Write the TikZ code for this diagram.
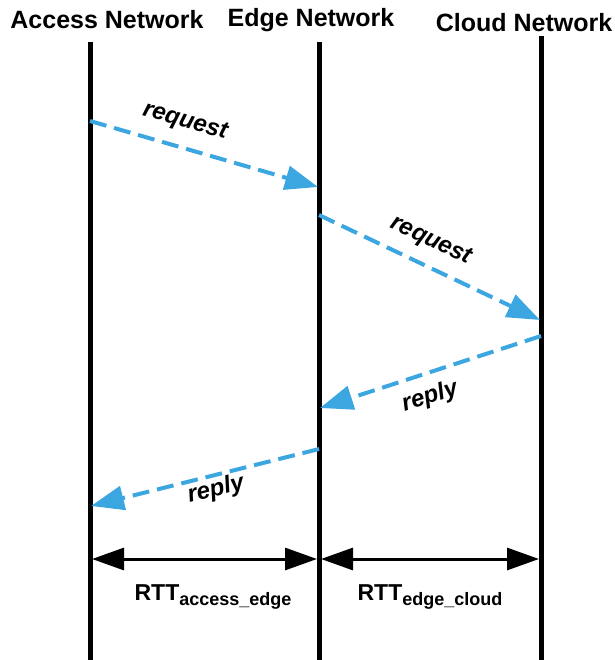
\documentclass[tikz,border=0pt]{standalone}
\usepackage{fontspec}
\setmainfont{Liberation Sans}
\usetikzlibrary{arrows.meta}
\definecolor{msgblue}{RGB}{59,166,224}
\begin{document}
\begin{tikzpicture}[x=1pt,y=-1pt,
  lifeline/.style={line width=5pt},
  msg/.style={msgblue,line width=4pt,dash pattern=on 17pt off 8pt,-{Triangle[length=33pt,width=24pt]}},
  rtt/.style={black,line width=3pt,{Triangle[length=32pt,width=22pt]}-{Triangle[length=32pt,width=22pt]}},
  title/.style={font=\fontsize{25}{29}\selectfont\bfseries,inner sep=0pt},
  mlabel/.style={font=\fontsize{24}{28}\selectfont\bfseries\itshape,inner sep=0pt},
  rlabel/.style={font=\fontsize{23}{27}\selectfont\bfseries,inner sep=0pt}]
\useasboundingbox (0,0) rectangle (614,660);
% titles
\node[title] (tA) at (107,20) {Access Network};
\node[title] (tE) at (311,20) {Edge Network};
\node[title] (tC) at (524,23) {Cloud Network};
% lifelines
\coordinate (aT) at (90,42);  \coordinate (aB) at (90,660);
\coordinate (eT) at (319,42); \coordinate (eB) at (319,660);
\coordinate (cT) at (541,36); \coordinate (cB) at (541,660);
\draw[lifeline] (aT) -- (aB);
\draw[lifeline] (eT) -- (eB);
\draw[lifeline] (cT) -- (cB);
% message points
\coordinate (m1s) at (90,121);  \coordinate (m1e) at (318,187);
\coordinate (m2s) at (319,215); \coordinate (m2e) at (540,320);
\coordinate (m3s) at (541,336); \coordinate (m3e) at (320,408);
\coordinate (m4s) at (319,449); \coordinate (m4e) at (91,506);
\draw[msg] (m1s) -- (m1e);
\draw[msg] (m2s) -- (m2e);
\draw[msg] (m3s) -- (m3e);
\draw[msg] (m4s) -- (m4e);
\node[mlabel,rotate=-16] (l1) at (185,122) {request};
\node[mlabel,rotate=-25] (l2) at (431,241) {request};
\node[mlabel,rotate=18] (l3) at (430,397) {reply};
\node[mlabel,rotate=14] (l4) at (216,490) {reply};
% RTT
\coordinate (r1s) at (92,559);  \coordinate (r1e) at (317,559);
\coordinate (r2s) at (321,559); \coordinate (r2e) at (539,559);
\draw[rtt] (r1s) -- (r1e);
\draw[rtt] (r2s) -- (r2e);
\node[rlabel] (rt1) at (213,597) {RTT\raisebox{-0.25em}{\fontsize{18}{21}\selectfont access\_edge}};
\node[rlabel] (rt2) at (430,597) {RTT\raisebox{-0.25em}{\fontsize{18}{21}\selectfont edge\_cloud}};
\end{tikzpicture}
\end{document}
